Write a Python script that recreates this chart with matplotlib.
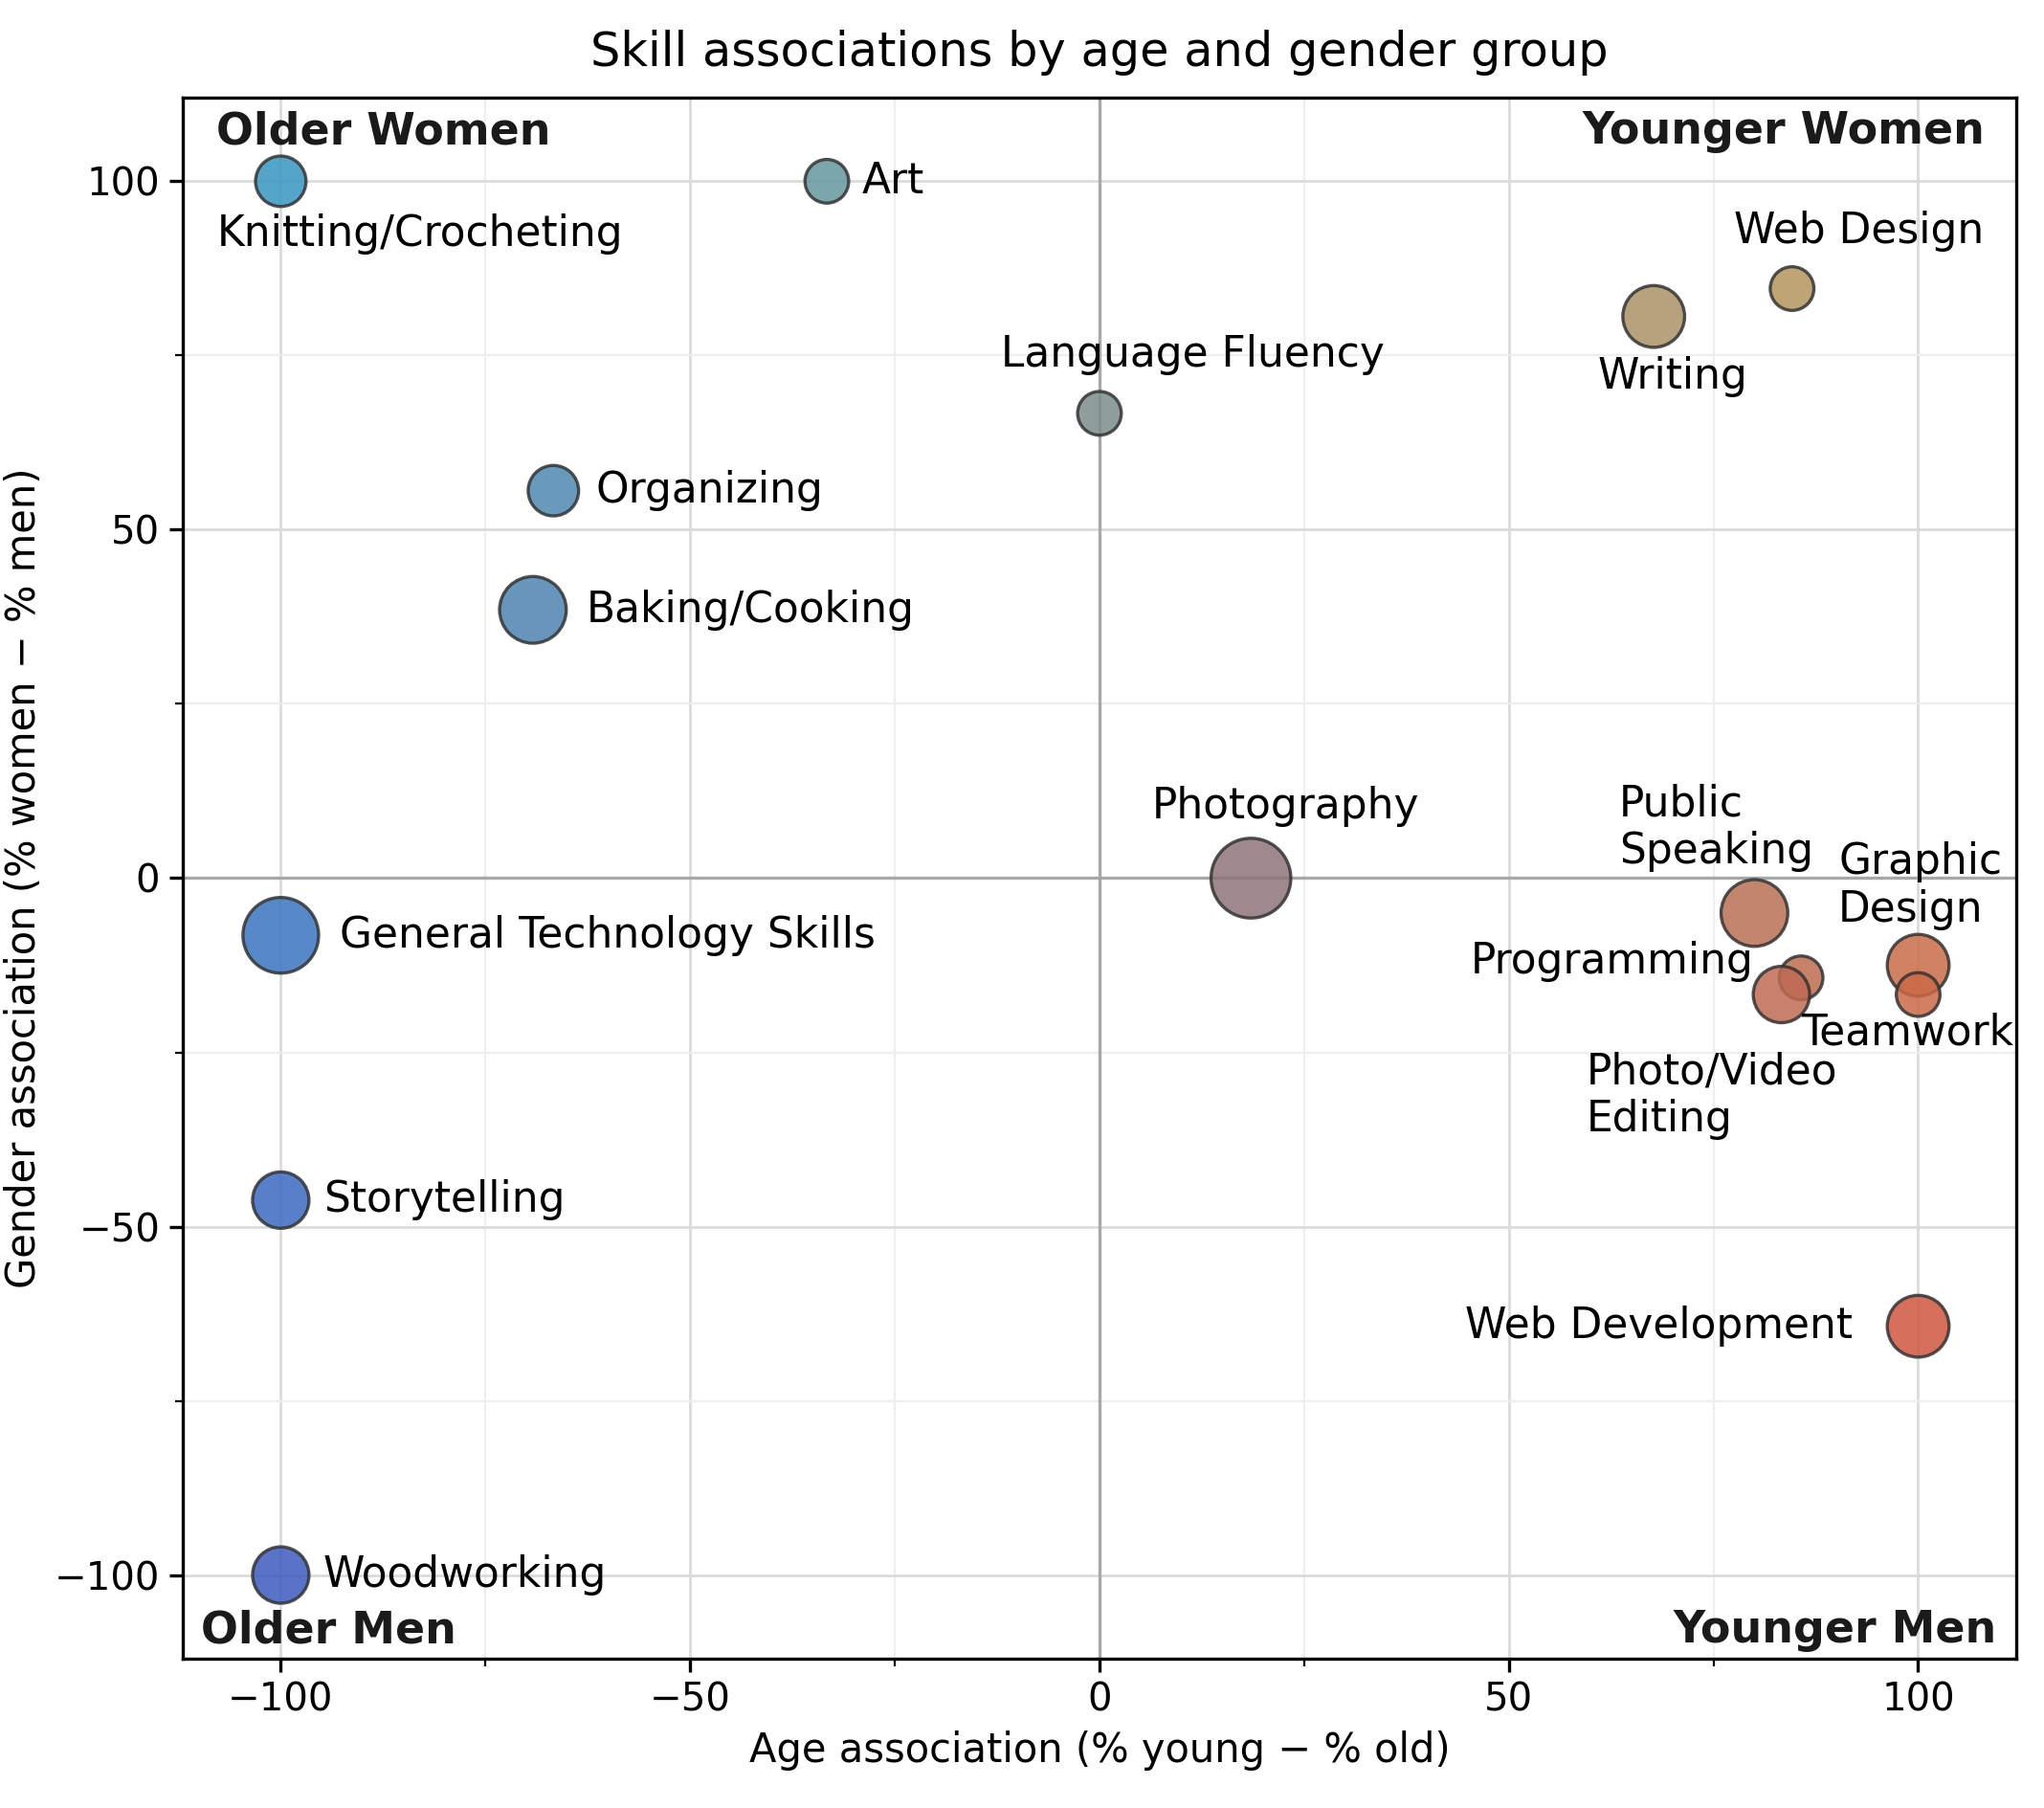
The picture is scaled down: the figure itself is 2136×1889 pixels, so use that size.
import numpy as np
import matplotlib
matplotlib.use("Agg")
import matplotlib.pyplot as plt
from matplotlib.colors import to_rgb
from matplotlib.ticker import MultipleLocator

# ── Data ──────────────────────────────────────────────────────────────────────
skills = ["Knitting/Crocheting", "Art", "Language Fluency", "Organizing",
          "Baking/Cooking", "Writing", "Web Design", "Photography",
          "Public\nSpeaking", "Graphic\nDesign", "Programming", "Teamwork",
          "Photo/Video\nEditing", "General Technology Skills", "Storytelling",
          "Woodworking", "Web Development"]
age_assoc = [-100.0, -33.3, 0.0, -66.7, -69.2, 67.7, 84.6, 18.5,
             80.0, 100.0, 85.7, 100.0, 83.3, -100.0, -100.0, -100.0, 100.0]
gender_assoc = [100.0, 100.0, 66.7, 55.6, 38.5, 80.6, 84.6, 0.0,
                -5.0, -12.5, -14.3, -16.7, -16.7, -8.2, -46.2, -100.0, -64.3]
mentions = [4, 3, 3, 4, 7, 6, 3, 10, 7, 6, 3, 3, 5, 9, 5, 5, 6]

quadrants = ["Older Women", "Younger Women", "Older Men", "Younger Men"]

# label offsets (points) and alignment per skill
label_style = {
    "Knitting/Crocheting":       ((-24, -20), "left"),
    "Art":                       ((13, 0), "left"),
    "Language Fluency":          ((35, 22), "center"),
    "Organizing":                ((16, 0), "left"),
    "Baking/Cooking":            ((20, 0), "left"),
    "Writing":                   ((7, -22.5), "center"),
    "Web Design":                ((25, 21.5), "center"),
    "Photography":               ((13, 27), "center"),
    "Public\nSpeaking":          ((-51, 32), "left"),
    "Graphic\nDesign":           ((-30, 30), "left"),
    "Programming":               ((-18, 6), "right"),
    "Teamwork":                  ((-4, -14.5), "center"),
    "Photo/Video\nEditing":      ((-73.5, -38), "left"),
    "General Technology Skills": ((22, 0), "left"),
    "Storytelling":              ((16, 0), "left"),
    "Woodworking":               ((16, 0), "left"),
    "Web Development":           ((-24.5, 0), "right"),
}

# corner colours: older men, older women, younger men, younger women
C_OM = np.array(to_rgb("#3d59bf"))
C_OW = np.array(to_rgb("#3796c2"))
C_YM = np.array(to_rgb("#d3483d"))
C_YW = np.array(to_rgb("#bd9a56"))


def blend(x, y):
    u = (x + 100) / 200.0
    v = (y + 100) / 200.0
    c = ((1 - u) * (1 - v) * C_OM + (1 - u) * v * C_OW
         + u * (1 - v) * C_YM + u * v * C_YW)
    return np.clip(c, 0, 1)


# ── Plot ──────────────────────────────────────────────────────────────────────
fig = plt.figure(figsize=(10.68, 9.445), dpi=200)
ax = fig.add_axes([0.0893, 0.0826, 0.8972, 0.8634])

ax.set_xlim(-112, 112)
ax.set_ylim(-112, 112)
ax.xaxis.set_major_locator(MultipleLocator(50))
ax.yaxis.set_major_locator(MultipleLocator(50))
ax.xaxis.set_minor_locator(MultipleLocator(25))
ax.yaxis.set_minor_locator(MultipleLocator(25))
ax.grid(True, which="major", color="#dcdcdc", lw=1.0, zorder=0)
ax.grid(True, which="minor", color="#eeeeee", lw=0.8, zorder=0)
ax.axhline(0, color="#a8a8a8", lw=1.2, zorder=1)
ax.axvline(0, color="#a8a8a8", lw=1.2, zorder=1)
ax.set_axisbelow(True)

colors = [blend(x, y) for x, y in zip(age_assoc, gender_assoc)]
sizes = np.array(mentions) * 90
ax.scatter(age_assoc, gender_assoc, s=sizes, c=colors, alpha=0.85,
           edgecolors="#333333", linewidths=1.2, zorder=3)

for name, x, y in zip(skills, age_assoc, gender_assoc):
    off, ha = label_style[name]
    ax.annotate(name, (x, y), xytext=off, textcoords="offset points",
                ha=ha, va="center", fontsize=15.8, zorder=4)

qkw = dict(fontsize=16.5, fontweight="bold", color="#1a1a1a",
           transform=ax.transAxes, va="center")
ax.text(0.0185, 0.978, quadrants[0], ha="left", **qkw)
ax.text(0.983, 0.978, quadrants[1], ha="right", **qkw)
ax.text(0.010, 0.018, quadrants[2], ha="left", **qkw)
ax.text(0.9895, 0.018, quadrants[3], ha="right", **qkw)

ax.tick_params(which="major", labelsize=14.5, length=5, width=1.2)
ax.tick_params(which="minor", length=3, width=0.8)
for sp in ax.spines.values():
    sp.set_linewidth(1.2)

ax.set_xlabel("Age association (% young \u2212 % old)", fontsize=15)
ax.set_ylabel("Gender association (% women \u2212 % men)", fontsize=15)
ax.set_title("Skill associations by age and gender group", fontsize=17.8, pad=12)

fig.savefig("out.png", dpi=200)
